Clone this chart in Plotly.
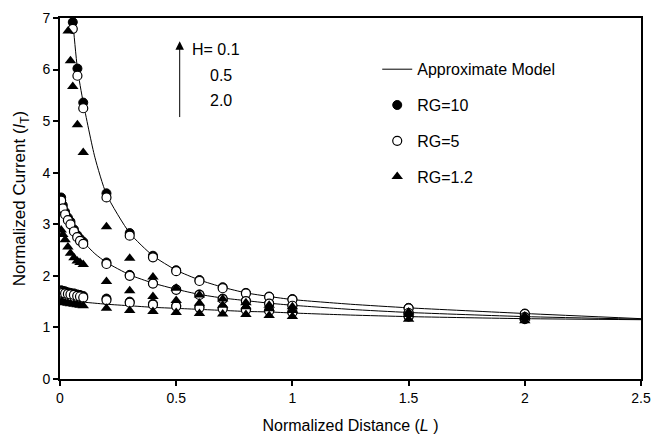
import plotly.graph_objects as go

# ---------------- data ----------------
# Approximate model curves (H = 0.1, 0.5, 2.0)
L_model = [0.005, 0.03, 0.045, 0.055, 0.075, 0.1, 0.15, 0.2, 0.3, 0.4, 0.5, 0.6, 0.7, 0.8, 0.9, 1.0, 1.25, 1.5, 2.0, 2.5]
model_h01 = [None, None, 7.6, 6.95, 6.02, 5.36, 4.30, 3.58, 2.83, 2.39, 2.11, 1.92, 1.78, 1.67, 1.60, 1.54, 1.45, 1.38, 1.27, 1.17]
model_h05 = [3.45, 3.12, 2.99, 2.92, 2.79, 2.66, 2.43, 2.26, 2.02, 1.86, 1.74, 1.64, 1.57, 1.52, 1.47, 1.43, 1.35, 1.29, 1.21, 1.16]
model_h20 = [1.56, 1.53, 1.52, 1.51, 1.50, 1.49, 1.47, 1.45, 1.42, 1.39, 1.37, 1.35, 1.33, 1.31, 1.30, 1.28, 1.24, 1.21, 1.17, 1.15]

# H = 0.1 data
L_h01_c = [0.055, 0.075, 0.1, 0.2, 0.3, 0.4, 0.5, 0.6, 0.7, 0.8, 0.9, 1.0, 1.5, 2.0]
h01_rg10 = [6.92, 6.02, 5.36, 3.60, 2.83, 2.39, 2.11, 1.92, 1.78, 1.67, 1.60, 1.55, 1.38, 1.27]
h01_rg5 = [6.79, 5.88, 5.25, 3.52, 2.78, 2.36, 2.09, 1.90, 1.76, 1.66, 1.59, 1.54, 1.37, 1.26]
L_h01_t = [0.035, 0.045, 0.055, 0.075, 0.1, 0.2, 0.3, 0.4, 0.5, 0.6, 0.7, 0.8, 0.9, 1.0, 1.5, 2.0]
h01_rg12 = [6.75, 6.17, 5.67, 4.93, 4.39, 2.95, 2.34, 1.98, 1.76, 1.63, 1.55, 1.48, 1.43, 1.40, 1.30, 1.22]

# H = 0.5 data
L_h05 = [0.005, 0.012, 0.022, 0.034, 0.045, 0.06, 0.074, 0.086, 0.1, 0.2, 0.3, 0.4, 0.5, 0.6, 0.7, 0.8, 0.9, 1.0, 1.5, 2.0]
h05_rg10 = [3.52, 3.37, 3.24, 3.13, 3.05, 2.90, 2.79, 2.72, 2.66, 2.26, 2.02, 1.86, 1.74, 1.64, 1.56, 1.52, 1.47, 1.43, 1.29, 1.21]
h05_rg5 = [3.46, 3.31, 3.19, 3.08, 3.00, 2.86, 2.75, 2.68, 2.62, 2.23, 2.00, 1.85, 1.73, 1.63, 1.55, 1.51, 1.46, 1.42, 1.28, 1.20]
h05_rg12 = [2.89, 2.80, 2.70, 2.56, 2.44, 2.35, 2.29, 2.26, 2.22, 1.89, 1.71, 1.60, 1.52, 1.47, 1.43, 1.40, 1.36, 1.33, 1.25, 1.19]

# H = 2.0 data
L_h20 = [0.005, 0.012, 0.022, 0.034, 0.045, 0.06, 0.074, 0.086, 0.1, 0.2, 0.3, 0.4, 0.5, 0.6, 0.7, 0.8, 0.9, 1.0, 1.5, 2.0]
h20_rg10 = [1.72, 1.71, 1.70, 1.68, 1.67, 1.66, 1.64, 1.63, 1.61, 1.56, 1.50, 1.46, 1.42, 1.40, 1.37, 1.35, 1.33, 1.30, 1.22, 1.17]
h20_rg5 = [1.68, 1.67, 1.66, 1.65, 1.64, 1.63, 1.61, 1.60, 1.58, 1.53, 1.48, 1.44, 1.41, 1.38, 1.36, 1.34, 1.32, 1.29, 1.21, 1.16]
h20_rg12 = [1.50, 1.49, 1.48, 1.47, 1.46, 1.45, 1.44, 1.43, 1.42, 1.37, 1.33, 1.31, 1.29, 1.27, 1.26, 1.25, 1.23, 1.21, 1.16, 1.13]

x_ticks = [0, 0.5, 1, 1.5, 2, 2.5]
x_tick_text = ["0", "0.5", "1", "1.5", "2", "2.5"]
y_ticks = [0, 1, 2, 3, 4, 5, 6, 7]

FONT = "Liberation Sans, Arial, sans-serif"

fig = go.Figure()

# model lines
for i, ys in enumerate([model_h01, model_h05, model_h20]):
    fig.add_trace(go.Scatter(
        x=L_model, y=ys, mode="lines", line=dict(color="black", width=1, shape="spline", smoothing=0.6),
        name="Approximate Model", legendgroup="model", showlegend=(i == 0), connectgaps=False))

marker_specs = {
    "RG=10": dict(symbol="circle", size=9, color="black", line=dict(color="black", width=1)),
    "RG=5": dict(symbol="circle", size=9, color="white", line=dict(color="black", width=1.2)),
    "RG=1.2": dict(symbol="triangle-up", size=10, color="black", line=dict(color="black", width=0)),
}

series = [
    ("RG=10", [(L_h01_c, h01_rg10), (L_h05, h05_rg10), (L_h20, h20_rg10)]),
    ("RG=5", [(L_h01_c, h01_rg5), (L_h05, h05_rg5), (L_h20, h20_rg5)]),
    ("RG=1.2", [(L_h01_t, h01_rg12), (L_h05, h05_rg12), (L_h20, h20_rg12)]),
]
for name, sets in series:
    for j, (xs, ys) in enumerate(sets):
        fig.add_trace(go.Scatter(
            x=xs, y=ys, mode="markers", marker=marker_specs[name], name=name,
            legendgroup=name, showlegend=(j == 0)))

# arrow & H labels
fig.add_annotation(x=0.515, y=6.55, ax=0.515, ay=5.05, axref="x", ayref="y", xref="x", yref="y",
                   text="", showarrow=True, arrowhead=2, arrowsize=1.7, arrowwidth=1, arrowcolor="black")
for txt, xx, yy in [("H= 0.1", 0.558, 6.38), ("0.5", 0.636, 5.89), ("2.0", 0.636, 5.41)]:
    fig.add_annotation(x=xx, y=yy, xref="x", yref="y", text=txt, showarrow=False, xanchor="left",
                       font=dict(family=FONT, size=16, color="black"))

fig.update_layout(
    width=652, height=441,
    margin=dict(l=60, r=11, t=18, b=62),
    paper_bgcolor="white", plot_bgcolor="white",
    font=dict(family=FONT, size=14, color="black"),
    showlegend=True,
    legend=dict(x=0.546, y=0.905, xanchor="left", yanchor="top", traceorder="grouped",
                tracegroupgap=12, font=dict(family=FONT, size=16, color="black"),
                bgcolor="rgba(0,0,0,0)", itemwidth=30),
    xaxis=dict(range=[0, 2.5], tickvals=x_ticks, ticktext=x_tick_text, ticks="outside", ticklen=5,
               tickwidth=1.5, tickcolor="black", showline=True, linecolor="black", linewidth=2, mirror=True,
               showgrid=False, zeroline=False, automargin=False,
               title=dict(text="Normalized Distance (<i>L</i> )", font=dict(family=FONT, size=16), standoff=15)),
    yaxis=dict(range=[0, 7], tickvals=y_ticks, ticks="outside", ticklen=5, tickwidth=1.5, tickcolor="black",
               showline=True, linecolor="black", linewidth=2, mirror=True, showgrid=False, zeroline=False,
               automargin=False,
               title=dict(text="Normalized Current (<i>I</i><sub>T</sub>)", font=dict(family=FONT, size=17), standoff=12)),
)

fig.write_html("out.html")
